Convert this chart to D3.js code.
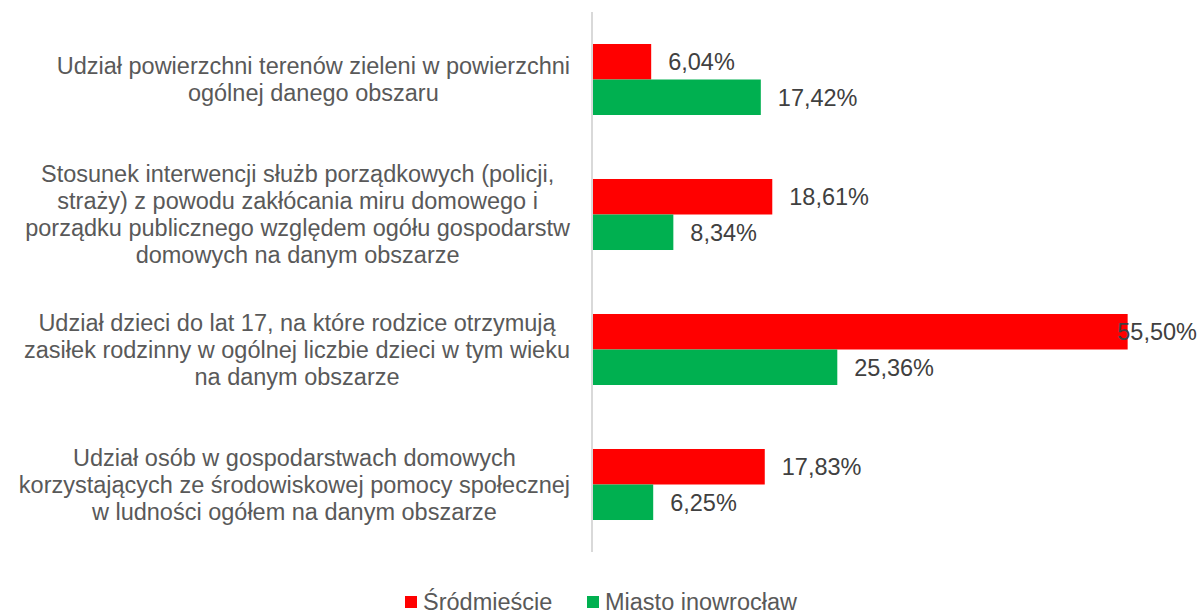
<!DOCTYPE html>
<html>
<head>
<meta charset="utf-8">
<script src="https://cdn.jsdelivr.net/npm/d3@7"></script>
<style>
  body { margin: 0; background: #fff; }
  svg { display: block; font-family: "Liberation Sans", Arial, sans-serif; }
</style>
</head>
<body>
<div id="chart"></div>
<script>
// categories (each entry = wrapped lines as shown in the original)
const categories = [
    ["Udział powierzchni terenów zieleni w powierzchni", "ogólnej danego obszaru"],
    ["Stosunek interwencji służb porządkowych (policji,", "straży) z powodu zakłócania miru domowego i",
     "porządku publicznego względem ogółu gospodarstw", "domowych na danym obszarze"],
    ["Udział dzieci do lat 17, na które rodzice otrzymują", "zasiłek rodzinny w ogólnej liczbie dzieci w tym wieku",
     "na danym obszarze"],
    ["Udział osób w gospodarstwach domowych", "korzystających ze środowiskowej pomocy społecznej",
     "w ludności ogółem na danym obszarze"]
];
const seriesNames = ["Śródmieście", "Miasto inowrocław"];
const srodmiescie = [6.04, 18.61, 55.50, 17.83];
const miasto = [17.42, 8.34, 25.36, 6.25];
const colors = ["#ff0000", "#00b050"];

const width = 1199, height = 612;
const plot = { left: 593, right: 1171, top: 12, bottom: 552 };
const fontSize = "23.5px";

const svg = d3.select("#chart").append("svg")
    .attr("width", width)
    .attr("height", height);

const y = d3.scaleBand()
    .domain(d3.range(categories.length))
    .range([plot.top, plot.bottom])
    .paddingInner(0.474)
    .paddingOuter(0.237);

const x = d3.scaleLinear()
    .domain([0, 60])
    .range([plot.left, plot.right]);

const sub = d3.scaleBand()
    .domain([0, 1])
    .range([0, y.bandwidth()]);

const fmt = v => v.toFixed(2).replace(".", ",") + "%";

const rows = categories.map((c, i) => ({ i, vals: [srodmiescie[i], miasto[i]] }));

const groups = svg.append("g").selectAll("g")
    .data(rows)
    .join("g")
    .attr("transform", d => `translate(0,${y(d.i)})`);

groups.selectAll("rect")
    .data(d => d.vals.map((v, s) => ({ v, s })))
    .join("rect")
    .attr("x", x(0))
    .attr("y", d => sub(d.s))
    .attr("width", d => x(d.v) - x(0))
    .attr("height", sub.bandwidth())
    .attr("fill", d => colors[d.s]);

// value labels (pushed back inside the chart if they would overflow)
groups.selectAll("text.val")
    .data(d => d.vals.map((v, s) => ({ v, s })))
    .join("text")
    .attr("class", "val")
    .attr("y", d => sub(d.s) + sub.bandwidth() / 2)
    .attr("dy", "0.36em")
    .attr("font-size", fontSize)
    .attr("fill", "#404040")
    .text(d => fmt(d.v))
    .attr("x", function(d) {
        const w = this.getComputedTextLength();
        return Math.min(x(d.v) + 17, width - 2 - w);
    });

// axis line
svg.append("line")
    .attr("x1", x(0) - 1).attr("x2", x(0) - 1)
    .attr("y1", plot.top).attr("y2", plot.bottom)
    .attr("stroke", "#d9d9d9")
    .attr("stroke-width", 2);

// category labels, centred block, right aligned to the axis
const lineH = 27;
categories.forEach((lines, i) => {
    const cy = y(i) + y.bandwidth() / 2;
    const t = svg.append("text")
        .attr("font-size", fontSize)
        .attr("fill", "#595959")
        .attr("text-anchor", "middle");
    const spans = lines.map((l, k) => t.append("tspan")
        .attr("y", cy + (k - (lines.length - 1) / 2) * lineH)
        .attr("dy", "0.36em")
        .text(l));
    const maxW = d3.max(spans, s => s.node().getComputedTextLength());
    spans.forEach(s => s.attr("x", 570 - maxW / 2));
});

// legend
const legend = svg.append("g").attr("transform", "translate(405,596)");
const legX = [0, 182];
seriesNames.forEach((n, s) => {
    legend.append("rect")
        .attr("x", legX[s]).attr("y", 0)
        .attr("width", 12).attr("height", 12)
        .attr("fill", colors[s]);
    legend.append("text")
        .attr("x", legX[s] + 18).attr("y", 6)
        .attr("dy", "0.36em")
        .attr("font-size", fontSize)
        .attr("fill", "#595959")
        .text(n);
});
</script>
</body>
</html>
